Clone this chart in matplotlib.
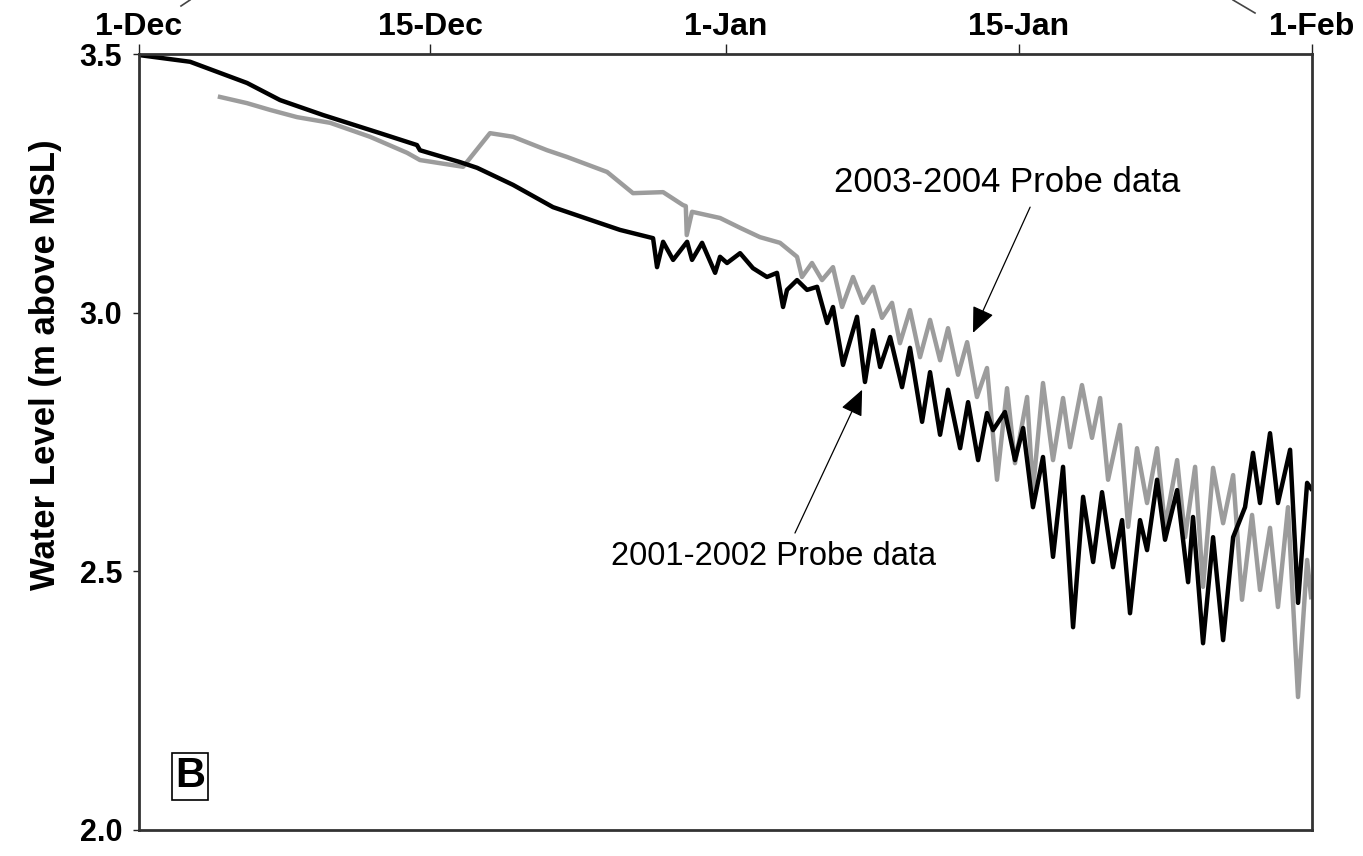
import matplotlib.pyplot as plt
from matplotlib.lines import Line2D

plt.rcParams["font.family"] = ["Liberation Sans", "DejaVu Sans"]

# days since 1 December, water level in m above MSL
days_0102 = [0.00, 2.70, 5.71, 7.45, 9.73, 12.74, 14.69, 14.85, 16.97, 17.87,
             19.77, 21.88, 24.21, 25.42, 27.17, 27.38, 27.70, 28.23, 28.97, 29.23,
             29.76, 30.45, 30.71, 31.08, 31.77, 32.45, 33.19, 33.72, 34.04, 34.25,
             34.78, 35.31, 35.84, 36.37, 36.68, 37.21, 37.95, 38.37, 38.80, 39.17,
             39.70, 40.33, 40.75, 41.39, 41.81, 42.34, 42.76, 43.40, 43.82, 44.35,
             44.82, 45.14, 45.77, 46.30, 46.73, 47.25, 47.78, 48.31, 48.84, 49.37,
             49.90, 50.43, 50.90, 51.48, 51.96, 52.38, 52.91, 53.28, 53.81, 54.23,
             54.87, 55.45, 55.71, 56.24, 56.77, 57.30, 57.83, 58.46, 58.88, 59.25,
             59.78, 60.20, 60.84, 61.26, 61.74, 61.95]
level_0102 = [3.498, 3.485, 3.444, 3.411, 3.382, 3.347, 3.324, 3.314, 3.291, 3.280,
              3.247, 3.204, 3.175, 3.160, 3.144, 3.088, 3.137, 3.102, 3.137, 3.102,
              3.135, 3.077, 3.108, 3.096, 3.115, 3.086, 3.069, 3.077, 3.011, 3.044,
              3.063, 3.044, 3.050, 2.980, 3.011, 2.899, 2.992, 2.866, 2.966, 2.895,
              2.953, 2.856, 2.932, 2.789, 2.885, 2.764, 2.851, 2.738, 2.827, 2.715,
              2.806, 2.773, 2.808, 2.715, 2.777, 2.624, 2.721, 2.528, 2.702, 2.392,
              2.644, 2.518, 2.653, 2.508, 2.599, 2.419, 2.599, 2.541, 2.677, 2.561,
              2.657, 2.479, 2.605, 2.361, 2.566, 2.367, 2.566, 2.624, 2.729, 2.632,
              2.767, 2.632, 2.735, 2.439, 2.671, 2.660]

days_0304 = [4.28, 5.71, 6.92, 8.35, 10.10, 12.21, 14.17, 14.85, 17.13, 18.55,
             19.77, 21.57, 22.62, 24.74, 26.11, 27.70, 28.75, 28.90, 28.95, 29.23,
             30.71, 31.77, 32.82, 33.88, 34.78, 35.04, 35.57, 36.10, 36.68, 37.16,
             37.74, 38.27, 38.80, 39.27, 39.80, 40.22, 40.75, 41.28, 41.81, 42.34,
             42.76, 43.29, 43.77, 44.29, 44.82, 45.35, 45.88, 46.30, 46.94, 47.25,
             47.78, 48.31, 48.84, 49.21, 49.84, 50.37, 50.80, 51.22, 51.85, 52.28,
             52.75, 53.28, 53.81, 54.23, 54.87, 55.29, 55.82, 56.24, 56.77, 57.30,
             57.83, 58.30, 58.83, 59.25, 59.78, 60.20, 60.73, 61.26, 61.74, 61.95]
level_0304 = [3.417, 3.405, 3.392, 3.378, 3.367, 3.340, 3.309, 3.295, 3.282, 3.347,
              3.340, 3.314, 3.301, 3.272, 3.231, 3.233, 3.208, 3.206, 3.150, 3.195,
              3.183, 3.164, 3.146, 3.135, 3.108, 3.069, 3.096, 3.063, 3.088, 3.011,
              3.069, 3.019, 3.050, 2.990, 3.019, 2.941, 3.005, 2.914, 2.986, 2.908,
              2.970, 2.880, 2.943, 2.837, 2.893, 2.677, 2.854, 2.709, 2.837, 2.657,
              2.864, 2.715, 2.835, 2.740, 2.860, 2.758, 2.835, 2.677, 2.783, 2.586,
              2.738, 2.632, 2.738, 2.586, 2.715, 2.566, 2.702, 2.470, 2.700, 2.593,
              2.686, 2.445, 2.609, 2.464, 2.584, 2.431, 2.624, 2.257, 2.522, 2.450]

tick_days = [0, 15.4, 31, 46.5, 62]
tick_labels = ["1-Dec", "15-Dec", "1-Jan", "15-Jan", "1-Feb"]
level_ticks = [2.0, 2.5, 3.0, 3.5]

fig = plt.figure(figsize=(13.63, 8.56), dpi=100)
ax = fig.add_axes([0.102, 0.0304, 0.8606, 0.9065])

ax.plot(days_0304, level_0304, color="#9c9c9c", lw=3.2, solid_joinstyle="round")
ax.plot(days_0102, level_0102, color="black", lw=3.2, solid_joinstyle="round")

ax.set_xlim(0, 62)
ax.set_ylim(2.0, 3.5)

ax.xaxis.tick_top()
ax.set_xticks(tick_days)
ax.set_xticklabels(tick_labels, fontsize=23, fontweight="bold")
ax.set_yticks(level_ticks)
ax.set_yticklabels([f"{v:.1f}" for v in level_ticks], fontsize=22, fontweight="bold")
ax.tick_params(axis="x", direction="out", length=7, width=1, pad=1.5, colors="#222222",
               labelcolor="black")
ax.tick_params(axis="y", direction="out", length=4, width=1, pad=8, colors="#222222",
               labelcolor="black")
for side in ax.spines.values():
    side.set_linewidth(2)
    side.set_color("#333333")

ax.set_ylabel("Water Level (m above MSL)", fontsize=25, fontweight="bold")
ax.yaxis.set_label_coords(-0.066, 0.6)

# series labels with pointer arrows
ax.text(45.88, 3.251, "2003-2004 Probe data", fontsize=25, ha="center", va="center")
ax.annotate("", xy=(44.08, 2.961), xytext=(47.10, 3.204),
            arrowprops=dict(arrowstyle="-|>,head_length=0.8,head_width=0.35",
                            color="black", lw=0.9, mutation_scale=20,
                            shrinkA=0, shrinkB=0))
ax.text(33.56, 2.528, "2001-2002 Probe data", fontsize=23.5, ha="center", va="center")
ax.annotate("", xy=(38.22, 2.851), xytext=(34.67, 2.574),
            arrowprops=dict(arrowstyle="-|>,head_length=0.8,head_width=0.35",
                            color="black", lw=0.9, mutation_scale=20,
                            shrinkA=0, shrinkB=0))

ax.text(2.70, 2.104, "B", fontsize=30, fontweight="bold", ha="center", va="center",
        bbox=dict(boxstyle="square,pad=0.08", fc="white", ec="black", lw=1.2))

# leftover leader strokes from the panel above
fig.add_artist(Line2D([190 / 1363, 181 / 1363], [1, 1 - 6 / 856],
                      transform=fig.transFigure, color="#444444", lw=1.2))
fig.add_artist(Line2D([1233 / 1363, 1255 / 1363], [1, 1 - 13 / 856],
                      transform=fig.transFigure, color="#444444", lw=1.2))

fig.savefig("out.png", dpi=100)
